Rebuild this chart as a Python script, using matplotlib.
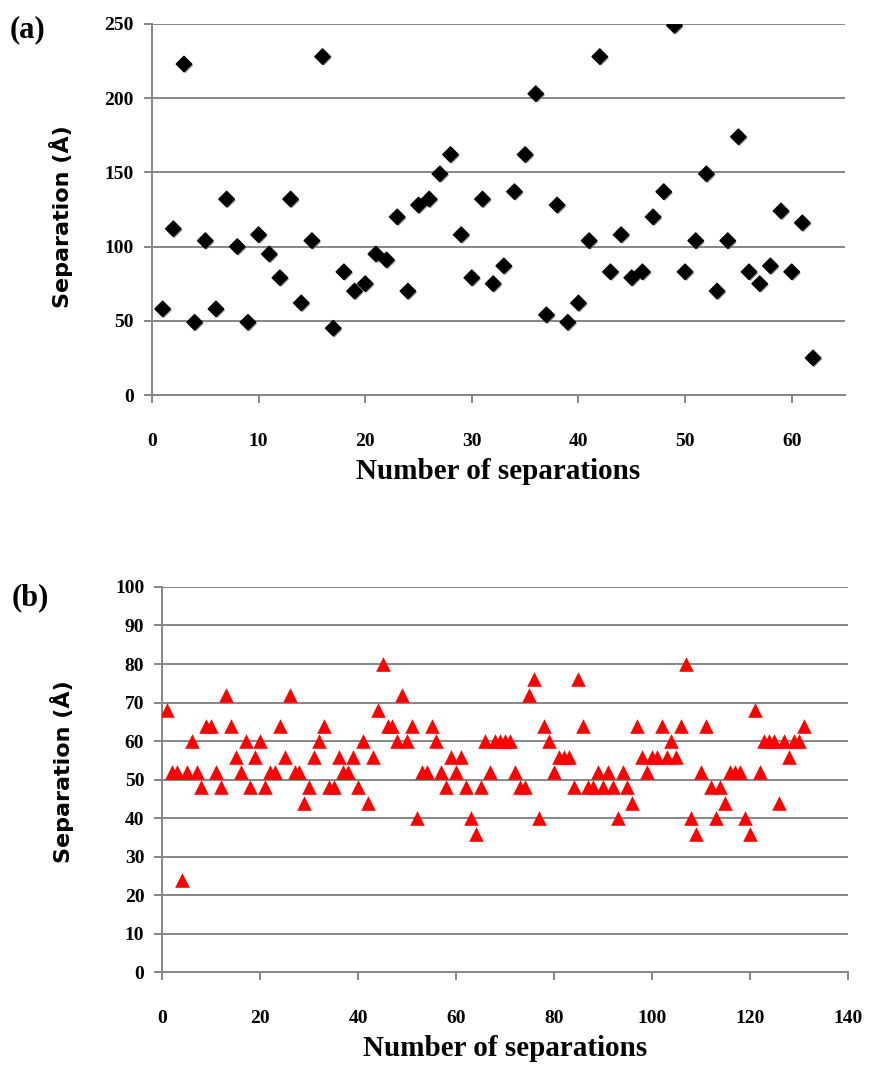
import matplotlib
matplotlib.use("Agg")
import matplotlib.pyplot as plt
import matplotlib.patheffects as pe
import numpy as np

# panel (a): 62 separations
a_x = list(range(1, 63))
a_y = [58, 112, 223, 49, 104, 58, 132, 100, 49, 108,
       95, 79, 132, 62, 104, 228, 45, 83, 70, 75,
       95, 91, 120, 70, 128, 132, 149, 162, 108, 79,
       132, 75, 87, 137, 162, 203, 54, 128, 49, 62,
       104, 228, 83, 108, 79, 83, 120, 137, 249, 83,
       104, 149, 70, 104, 174, 83, 75, 87, 124, 83,
       116, 25]
a_xticks = [0, 10, 20, 30, 40, 50, 60]
a_yticks = [0, 50, 100, 150, 200, 250]

# panel (b): 131 separations
b_x = list(range(1, 132))
b_y = [68, 52, 52, 24, 52, 60, 52, 48, 64, 64,
       52, 48, 72, 64, 56, 52, 60, 48, 56, 60,
       48, 52, 52, 64, 56, 72, 52, 52, 44, 48,
       56, 60, 64, 48, 48, 56, 52, 52, 56, 48,
       60, 44, 56, 68, 80, 64, 64, 60, 72, 60,
       64, 40, 52, 52, 64, 60, 52, 48, 56, 52,
       56, 48, 40, 36, 48, 60, 52, 60, 60, 60,
       60, 52, 48, 48, 72, 76, 40, 64, 60, 52,
       56, 56, 56, 48, 76, 64, 48, 48, 52, 48,
       52, 48, 40, 52, 48, 44, 64, 56, 52, 56,
       56, 64, 56, 60, 56, 64, 80, 40, 36, 52,
       64, 48, 40, 48, 44, 52, 52, 52, 40, 36,
       68, 52, 60, 60, 60, 44, 60, 56, 60, 60,
       64]
b_xticks = [0, 20, 40, 60, 80, 100, 120, 140]
b_yticks = list(range(0, 101, 10))

grey = "#868686"
xlabfont = {"family": "Liberation Serif", "weight": "bold", "size": 21}
ylabfont = {"family": "DejaVu Sans", "weight": "bold", "size": 16}

fig = plt.figure(figsize=(8.69, 10.65), dpi=100)
ax1 = fig.add_axes([0.1749, 0.6291, 0.7975, 0.3484])
ax2 = fig.add_axes([0.1868, 0.0869, 0.7887, 0.3620])


def style(ax):
    for s in ["top", "right"]:
        ax.spines[s].set_visible(False)
    for s in ["left", "bottom"]:
        ax.spines[s].set_color(grey)
        ax.spines[s].set_linewidth(1.4)
    ax.yaxis.grid(True, color=grey, linewidth=1.4)
    ax.set_axisbelow(True)
    ax.tick_params(axis="both", colors=grey, width=1.4, length=6)
    ax.tick_params(axis="x", pad=21)
    ax.tick_params(axis="y", pad=7)
    for lab in ax.get_xticklabels() + ax.get_yticklabels():
        lab.set_color("black")
        lab.set_fontfamily("Liberation Serif")
        lab.set_fontweight("bold")
        lab.set_fontsize(14)


ax1.scatter(a_x, a_y, marker="D", s=62, color="black", zorder=3,
            path_effects=[pe.withSimplePatchShadow(offset=(1, -1), shadow_rgbFace="#777777", alpha=0.8)])
ax1.set_xlim(0, 65)
ax1.set_ylim(0, 250)
ax1.set_xticks(a_xticks)
ax1.set_yticks(a_yticks)
style(ax1)
ax1.set_xlabel("Number of separations", fontdict=xlabfont, labelpad=6)
ax1.set_ylabel("Separation (Å)", fontdict=ylabfont)
ax1.yaxis.set_label_coords(-0.114, 0.48)

ax2.scatter(b_x, b_y, marker="^", s=110, color="#ff0000", linewidths=0, zorder=3)
ax2.set_xlim(0, 140)
ax2.set_ylim(0, 100)
ax2.set_xticks(b_xticks)
ax2.set_yticks(b_yticks)
style(ax2)
ax2.set_xlabel("Number of separations", fontdict=xlabfont, labelpad=6)
ax2.set_ylabel("Separation (Å)", fontdict=ylabfont)
ax2.yaxis.set_label_coords(-0.129, 0.52)

fig.text(0.011, 0.972, "(a)", fontsize=22, fontweight="bold", family="Liberation Serif", va="center")
fig.text(0.013, 0.439, "(b)", fontsize=22, fontweight="bold", family="Liberation Serif", va="center")

fig.savefig("out.png", dpi=100)
